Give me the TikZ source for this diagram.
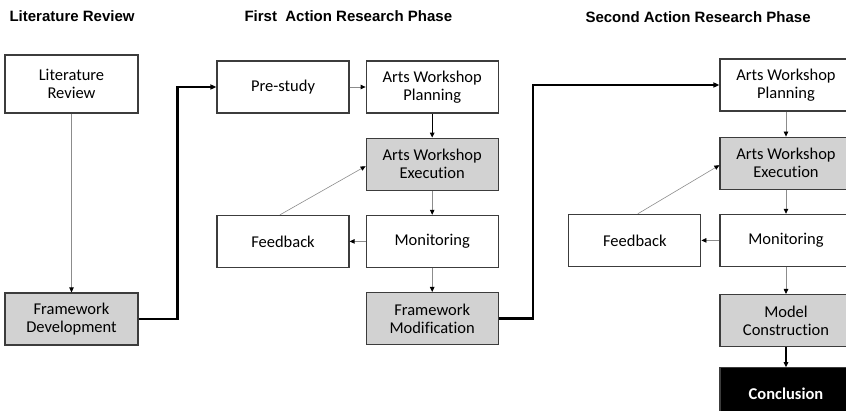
\documentclass[tikz,border=0pt]{standalone}
\usepackage{fontspec}
\setmainfont{Carlito}[Ligatures=NoCommon]
\newfontfamily\headfont{Liberation Sans}
\usetikzlibrary{arrows.meta, positioning}
\definecolor{stepfill}{HTML}{D2D2D2}
\definecolor{stepborder}{HTML}{3C3C3C}
\definecolor{thinlink}{HTML}{8C8C8C}

\begin{document}
\begin{tikzpicture}[
        x=1pt, y=-1pt,
        node distance=24pt,
        stepbox/.style={
            draw=stepborder,
            line width=1.2pt,
            minimum width=132pt,
            minimum height=52pt,
            align=center,
            fill=white,
            font=\fontsize{16.5}{18}\selectfont
        },
        shadedbox/.style={stepbox, fill=stepfill},
        finalbox/.style={stepbox, fill=black, text=white,
            font=\fontsize{16.5}{18}\selectfont\bfseries},
        phasetitle/.style={anchor=west, font=\headfont\fontsize{15}{18}\selectfont\bfseries},
        graylink/.style={-{Triangle[length=5pt, width=4.5pt, color=black]}, thinlink, line width=0.8pt},
        blacklink/.style={-{Triangle[length=5pt, width=4.5pt]}, black, line width=1.4pt},
        phaselink/.style={-{Triangle[length=6pt, width=5pt]}, black, line width=2.6pt},
        backlink/.style={-{Triangle[length=5pt, width=4.5pt, color=black]}, thinlink, line width=0.6pt}
    ]
        \useasboundingbox (0,0) rectangle (846,411);

        % headings
        \node[phasetitle] (littitle) at (6,16) {Literature Review};
        \node[phasetitle] (firsttitle) at (241,16) {First\ \ Action Research Phase};
        \node[phasetitle] (secondtitle) at (582,17) {Second Action Research Phase};

        % literature review column
        \node[stepbox, minimum width=133pt, minimum height=58pt] (litreview) at (71.5,84) {Literature\\Review};
        \node[shadedbox, minimum width=133pt] (framedev) at (71.5,319) {Framework\\Development};

        % first action research phase
        \node[stepbox] (prestudy) at (283,87) {Pre-study};
        \node[stepbox, right=16pt of prestudy] (planfirst) {Arts Workshop\\Planning};
        \node[shadedbox, below=of planfirst] (execfirst) {Arts Workshop\\Execution};
        \node[stepbox, below=of execfirst] (monfirst) {Monitoring};
        \node[stepbox, left=16pt of monfirst] (feedfirst) {Feedback};
        \node[shadedbox, below=of monfirst] (modification) {Framework\\Modification};

        % second action research phase
        \node[stepbox] (plansecond) at (786,85) {Arts Workshop\\Planning};
        \node[shadedbox, below=25pt of plansecond] (execsecond) {Arts Workshop\\Execution};
        \node[stepbox, below=of execsecond] (monsecond) {Monitoring};
        \node[stepbox, left=18pt of monsecond] (feedsecond) {Feedback};
        \node[shadedbox, below=27pt of monsecond] (model) {Model\\Construction};
        \node[finalbox, below=20pt of model] (conclusion) {Conclusion};

        % links
        \draw[graylink] (litreview) -- (framedev);
        \draw[phaselink] (framedev.east) -- ++(39,0) |- (prestudy.west);
        \draw[graylink] (prestudy) -- (planfirst);
        \draw[blacklink] (planfirst) -- (execfirst);
        \draw[graylink] (execfirst) -- (monfirst);
        \draw[graylink] (monfirst) -- (feedfirst);
        \draw[backlink] ([xshift=-3pt]feedfirst.north) -- ([yshift=-2pt]execfirst.west);
        \draw[graylink] (monfirst) -- (modification);
        \draw[phaselink] (modification.east) -- ++(34,0) |- (plansecond.west);
        \draw[graylink] (plansecond) -- (execsecond);
        \draw[graylink] (execsecond) -- (monsecond);
        \draw[graylink] (monsecond) -- (feedsecond);
        \draw[backlink] ([xshift=3pt]feedsecond.north) -- ([yshift=-2pt]execsecond.west);
        \draw[graylink] (monsecond) -- (model);
        \draw[blacklink] (model) -- (conclusion);
    \end{tikzpicture}
\end{document}
